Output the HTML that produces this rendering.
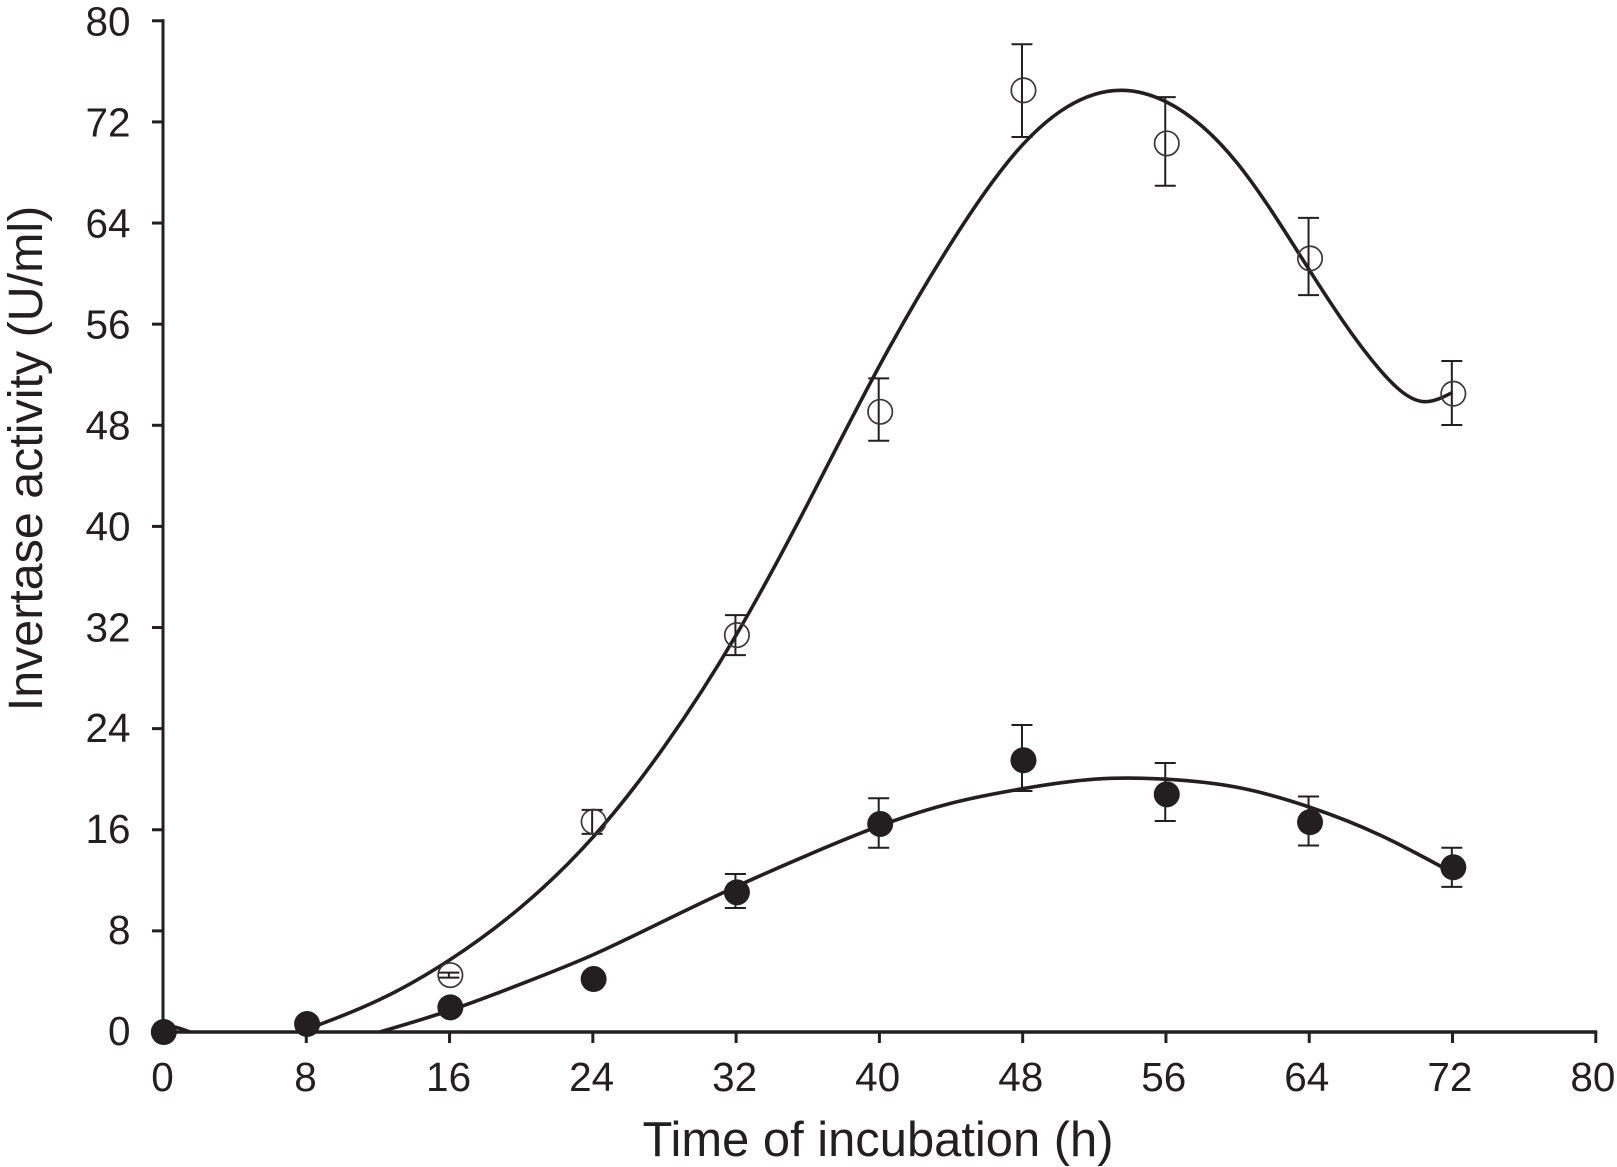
<!DOCTYPE html>
<html lang="en">
<head>
<meta charset="utf-8">
<title>Invertase activity over time of incubation</title>
<style>
html,body{margin:0;padding:0;background:#fff;}
body{width:1617px;height:1167px;overflow:hidden;}
svg{display:block;}
text{font-family:"Liberation Sans",Arial,sans-serif;fill:#231f20;}
</style>
</head>
<body>
<svg id="chart" xmlns="http://www.w3.org/2000/svg" width="1617" height="1167" viewBox="0 0 1617 1167">
  <rect x="0" y="0" width="1617" height="1167" fill="#ffffff"/>
  <g id="curves"></g>
  <g id="axes"></g>
  <g id="points"></g>
  <text x="878" y="1156" font-size="48.9" text-anchor="middle">Time of incubation (h)</text>
  <text transform="translate(42 458.5) rotate(-90)" font-size="48.4" text-anchor="middle">Invertase activity (U/ml)</text>
</svg>
<script>
// ---- Data ----
const xTicks = [0, 8, 16, 24, 32, 40, 48, 56, 64, 72, 80];
const yTicks = [0, 8, 16, 24, 32, 40, 48, 56, 64, 72, 80];

const openTimes = [16, 24, 32, 40, 48, 56, 64, 72];
const openValues = [4.5, 16.64, 31.4, 49.07, 74.5, 70.3, 61.2, 50.5];
const openErrUp = [0.2, 0.93, 1.58, 2.64, 3.64, 3.66, 3.21, 2.59];
const openErrDown = [0.2, 0.97, 1.58, 2.29, 3.69, 3.35, 2.9, 2.48];

const filledTimes = [0, 8, 16, 24, 32, 40, 48, 56, 64, 72];
const filledValues = [0, 0.63, 1.95, 4.19, 11.05, 16.46, 21.5, 18.8, 16.6, 13.03];
const filledErrUp = [0, 0, 0, 0, 1.45, 2.03, 2.79, 2.48, 2.03, 1.55];
const filledErrDown = [0, 0, 0, 0, 1.24, 1.88, 2.43, 2.11, 1.85, 1.55];

const openCurveTimes = [8, 12, 16, 20, 24, 28, 32, 36, 40, 44, 48, 50.5, 53.6, 56, 60, 64, 68, 70.4, 72];
const openCurveValues = [0.2, 2.5, 5.7, 9.9, 15.4, 22.6, 31.4, 41.8, 52.7, 62.4, 70.2, 73.2, 74.5, 73.6, 68.7, 60.3, 52.3, 49.87, 50.6];

const filledCurveTimes = [12.1, 16, 20, 24, 28, 32, 36, 40, 44, 48, 52, 56, 60, 64, 68, 72];
const filledCurveValues = [0, 1.7, 3.8, 6.1, 8.8, 11.5, 14.0, 16.3, 18.1, 19.25, 20, 20, 19.35, 17.8, 15.55, 12.6];

const originTailTimes = [0, 0.9, 1.5];
const originTailValues = [0.55, 0.3, 0];

// ---- Axis functions ----
const INK = '#231f20';
const SVG_NS = 'http://www.w3.org/2000/svg';
function xPos(t) { return 163 + t * 17.91; }
function yPos(v) { return 1032 - v * 12.64; }
function xLabelPos(t) { return 162.5 + t * 17.88; }
function yLabelBase(v) { return 1045 - v * 12.616; }

function make(tag, parent) {
  const el = document.createElementNS(SVG_NS, tag);
  parent.appendChild(el);
  return el;
}
function segment(parent, x1, y1, x2, y2, width, color) {
  const l = make('line', parent);
  l.setAttribute('x1', x1);
  l.setAttribute('y1', y1);
  l.setAttribute('x2', x2);
  l.setAttribute('y2', y2);
  l.setAttribute('stroke', color);
  l.setAttribute('stroke-width', width);
  return l;
}
// Natural cubic spline through the knots, expressed as Bezier segments in pixel space.
function splinePath(ts, vs) {
  const xs = ts.map(xPos);
  const ys = vs.map(yPos);
  const n = xs.length;
  const h = [];
  for (let i = 0; i < n - 1; i++) h.push(xs[i + 1] - xs[i]);
  const c = new Array(n).fill(0), dd = new Array(n).fill(0), m = new Array(n).fill(0);
  const lower = new Array(n).fill(0), diag = new Array(n).fill(1), upper = new Array(n).fill(0);
  for (let i = 1; i < n - 1; i++) {
    lower[i] = h[i - 1];
    diag[i] = 2 * (h[i - 1] + h[i]);
    upper[i] = h[i];
    dd[i] = 6 * ((ys[i + 1] - ys[i]) / h[i] - (ys[i] - ys[i - 1]) / h[i - 1]);
  }
  for (let i = 1; i < n; i++) {
    const f = lower[i] / diag[i - 1];
    diag[i] -= f * upper[i - 1];
    dd[i] -= f * dd[i - 1];
  }
  c[n - 1] = dd[n - 1] / diag[n - 1];
  for (let i = n - 2; i >= 0; i--) c[i] = (dd[i] - upper[i] * c[i + 1]) / diag[i];
  for (let i = 0; i < n - 1; i++) {
    m[i] = (ys[i + 1] - ys[i]) / h[i] - h[i] * (2 * c[i] + c[i + 1]) / 6;
  }
  m[n - 1] = (ys[n - 1] - ys[n - 2]) / h[n - 2] + h[n - 2] * (c[n - 2] + 2 * c[n - 1]) / 6;
  let d = 'M' + xs[0].toFixed(2) + ' ' + ys[0].toFixed(2);
  for (let i = 0; i < n - 1; i++) {
    const c1x = xs[i] + h[i] / 3, c1y = ys[i] + m[i] * h[i] / 3;
    const c2x = xs[i + 1] - h[i] / 3, c2y = ys[i + 1] - m[i + 1] * h[i] / 3;
    d += 'C' + c1x.toFixed(2) + ' ' + c1y.toFixed(2) + ' ' + c2x.toFixed(2) + ' ' + c2y.toFixed(2) + ' ' + xs[i + 1].toFixed(2) + ' ' + ys[i + 1].toFixed(2);
  }
  return d;
}

// ---- Axes ----
const axes = document.getElementById('axes');
const yAxisLine = segment(axes, xPos(0), yPos(80) - 1.5, xPos(0), yPos(0) + 1.5, 3, INK);


const xAxisLine = segment(axes, xPos(0) - 1.5, yPos(0), xPos(80) + 1.5, yPos(0), 3.4, INK);



xTicks.forEach(function (t) {
  const tick = segment(axes, xPos(t), yPos(0), xPos(t), yPos(0) + 11, 3, INK);
  
  
  const label = make('text', axes);
  
  
  label.setAttribute('x', xLabelPos(t));
  label.setAttribute('y', 1091);
  label.setAttribute('font-size', '40.5');
  label.setAttribute('text-anchor', 'middle');
  label.textContent = String(t);
});
yTicks.forEach(function (v) {
  const tick = segment(axes, xPos(0) - 11, yPos(v), xPos(0), yPos(v), 3, INK);
  
  
  const label = make('text', axes);
  
  
  label.setAttribute('x', 130.5);
  label.setAttribute('y', yLabelBase(v));
  label.setAttribute('font-size', '40.5');
  label.setAttribute('text-anchor', 'end');
  label.textContent = String(v);
});

// ---- Curves ----
const curves = document.getElementById('curves');
const openCurve = make('path', curves);


openCurve.setAttribute('d', splinePath(openCurveTimes, openCurveValues));
const filledCurve = make('path', curves);


filledCurve.setAttribute('d', splinePath(filledCurveTimes, filledCurveValues));
const originTail = make('path', curves);


originTail.setAttribute('d', splinePath(originTailTimes, originTailValues));
[openCurve, filledCurve, originTail].forEach(function (c) {
  c.setAttribute('fill', 'none');
  c.setAttribute('stroke', INK);
  c.setAttribute('stroke-width', '3.6');
  c.setAttribute('stroke-linejoin', 'round');
});

// ---- Points and error bars ----
const points = document.getElementById('points');
function drawError(prefix, t, v, up, down) {
  if (up === 0 && down === 0) return;
  const x = xPos(t) - 0.7;
  const top = yPos(v + up);
  const bottom = yPos(v - down);
  const stem = segment(points, x, top, x, bottom, 2, INK);
  
  
  const capTop = segment(points, x - 10.5, top, x + 10.5, top, 2, INK);
  
  
  const capBottom = segment(points, x - 10.5, bottom, x + 10.5, bottom, 2, INK);
  
  
}
openTimes.forEach(function (t, i) {
  drawError('open', t, openValues[i], openErrUp[i], openErrDown[i]);
  const c = make('circle', points);
  
  
  c.setAttribute('cx', xPos(t) + 0.8);
  c.setAttribute('cy', yPos(openValues[i]));
  c.setAttribute('r', 12.2);
  c.setAttribute('fill', 'none');
  c.setAttribute('stroke', '#3a3738');
  c.setAttribute('stroke-width', 1.7);
});
filledTimes.forEach(function (t, i) {
  drawError('filled', t, filledValues[i], filledErrUp[i], filledErrDown[i]);
  const c = make('circle', points);
  
  
  c.setAttribute('cx', xPos(t) + 0.8);
  c.setAttribute('cy', yPos(filledValues[i]));
  c.setAttribute('r', 13);
  c.setAttribute('fill', INK);
});
</script>
</body>
</html>
